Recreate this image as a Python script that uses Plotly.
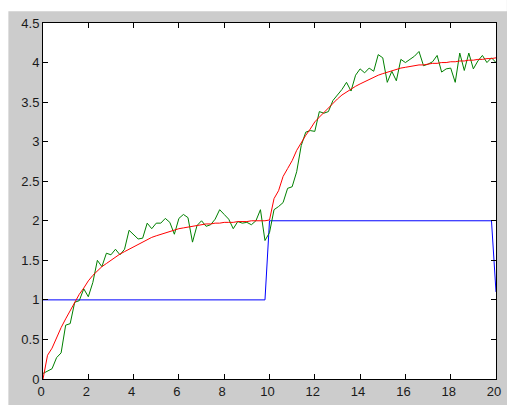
import plotly.graph_objects as go

# Blue: reference input (step)
input_t = [0.0, 9.8, 10.0, 19.8, 20.0]
input_v = [1.0, 1.0, 2.0, 2.0, 1.1]

# Red: model / filtered response (sampled every 0.2)
model_t = [round(i * 0.2, 1) for i in range(101)]
model_v = [
    0.00, 0.30, 0.39, 0.53, 0.65, 0.76, 0.87, 0.97, 1.07, 1.15,
    1.24, 1.31, 1.37, 1.42, 1.46, 1.50, 1.55, 1.58, 1.61, 1.64,
    1.68, 1.71, 1.74, 1.77, 1.79, 1.81, 1.83, 1.85, 1.87, 1.88,
    1.90, 1.91, 1.92, 1.93, 1.94, 1.95, 1.96, 1.96, 1.97, 1.97,
    1.98, 1.98, 1.98, 1.99, 1.99, 1.99, 2.00, 2.00, 2.00, 2.00,
    2.01, 2.28, 2.38, 2.56, 2.66, 2.76, 2.89, 2.99, 3.08, 3.16,
    3.25, 3.31, 3.37, 3.43, 3.49, 3.54, 3.59, 3.63, 3.67, 3.70,
    3.73, 3.76, 3.79, 3.82, 3.84, 3.86, 3.88, 3.90, 3.91, 3.93,
    3.94, 3.95, 3.96, 3.97, 3.97, 3.98, 3.99, 3.99, 4.00, 4.00,
    4.01, 4.01, 4.02, 4.02, 4.03, 4.03, 4.04, 4.04, 4.05, 4.05,
    4.06,
]

# Green: noisy measured output (sampled every 0.2)
meas_t = [round(i * 0.2, 1) for i in range(101)]
meas_v = [
    0.07, 0.10, 0.13, 0.27, 0.33, 0.68, 0.70, 0.97, 0.99, 1.14,
    1.04, 1.22, 1.50, 1.42, 1.59, 1.57, 1.64, 1.57, 1.64, 1.88,
    1.82, 1.77, 1.78, 1.97, 1.90, 1.97, 1.97, 2.03, 1.98, 1.83,
    2.03, 2.08, 2.04, 1.73, 1.94, 2.00, 1.93, 1.95, 2.02, 2.14,
    2.08, 2.02, 1.90, 1.99, 1.97, 1.98, 1.95, 2.00, 2.14, 1.75,
    1.85, 2.14, 2.18, 2.23, 2.41, 2.43, 2.62, 2.95, 3.12, 3.14,
    3.13, 3.38, 3.36, 3.38, 3.52, 3.59, 3.66, 3.75, 3.64, 3.84,
    3.92, 3.87, 3.93, 3.89, 4.10, 4.06, 3.75, 3.89, 3.77, 4.04,
    4.00, 4.04, 4.08, 4.14, 3.96, 3.98, 4.01, 4.09, 3.88, 3.92,
    3.93, 3.75, 4.12, 3.90, 4.12, 3.92, 4.02, 4.09, 4.00, 4.06,
    4.00,
]

x_ticks = [0, 2, 4, 6, 8, 10, 12, 14, 16, 18, 20]
x_ticklabels = ["0", "2", "4", "6", "8", "10", "12", "14", "16", "18", "20"]
y_ticks = [0, 0.5, 1, 1.5, 2, 2.5, 3, 3.5, 4, 4.5]
y_ticklabels = ["0", "0.5", "1", "1.5", "2", "2.5", "3", "3.5", "4", "4.5"]

fig = go.Figure()
fig.add_trace(go.Scatter(x=input_t, y=input_v, mode="lines",
                         line=dict(color="#0000ff", width=1)))
fig.add_trace(go.Scatter(x=meas_t, y=meas_v, mode="lines",
                         line=dict(color="#008000", width=1)))
fig.add_trace(go.Scatter(x=model_t, y=model_v, mode="lines",
                         line=dict(color="#ff0000", width=1)))

# figure fills the whole window (page margin removed below)
W, H = 507, 405
L, R, T, B = 43, 6, 23, 22
pw, ph = W - L - R, H - T - B

def px_x(p):
    return (p - L) / pw

def px_y(p):
    return (H - B - p) / ph

shapes = [
    # white strip at top
    dict(type="rect", xref="paper", yref="paper", layer="below",
         x0=px_x(-5), x1=px_x(W + 5), y0=px_y(11), y1=px_y(-5),
         fillcolor="white", line=dict(width=0)),
    # white strip at left
    dict(type="rect", xref="paper", yref="paper", layer="below",
         x0=px_x(-5), x1=px_x(8), y0=px_y(H + 5), y1=px_y(-5),
         fillcolor="white", line=dict(width=0)),
]

axis_common = dict(
    showgrid=False, zeroline=False, showline=True, linecolor="black",
    linewidth=1, mirror="ticks", ticks="inside", ticklen=5,
    tickcolor="black", tickwidth=1,
    tickfont=dict(family="Liberation Sans, Arial, sans-serif", size=13,
                  color="#1a1a1a"),
)

fig.update_layout(
    width=W, height=H, autosize=False,
    margin=dict(l=L, r=R, t=T, b=B, pad=0),
    paper_bgcolor="#cccccc", plot_bgcolor="white",
    showlegend=False,
    hovermode=False,
    shapes=shapes,
    xaxis=dict(range=[0, 20], tickmode="array", tickvals=x_ticks,
               ticktext=x_ticklabels, ticklabelshift=-2, **axis_common),
    yaxis=dict(range=[0, 4.5], tickmode="array", tickvals=y_ticks,
               ticktext=y_ticklabels, **axis_common),
)

fig.write_html(
    "out.html",
    config={"displayModeBar": False, "staticPlot": True},
    post_script="document.body.style.margin='0';"
                "document.documentElement.style.overflow='hidden';"
                "document.body.style.overflow='hidden';",
)
